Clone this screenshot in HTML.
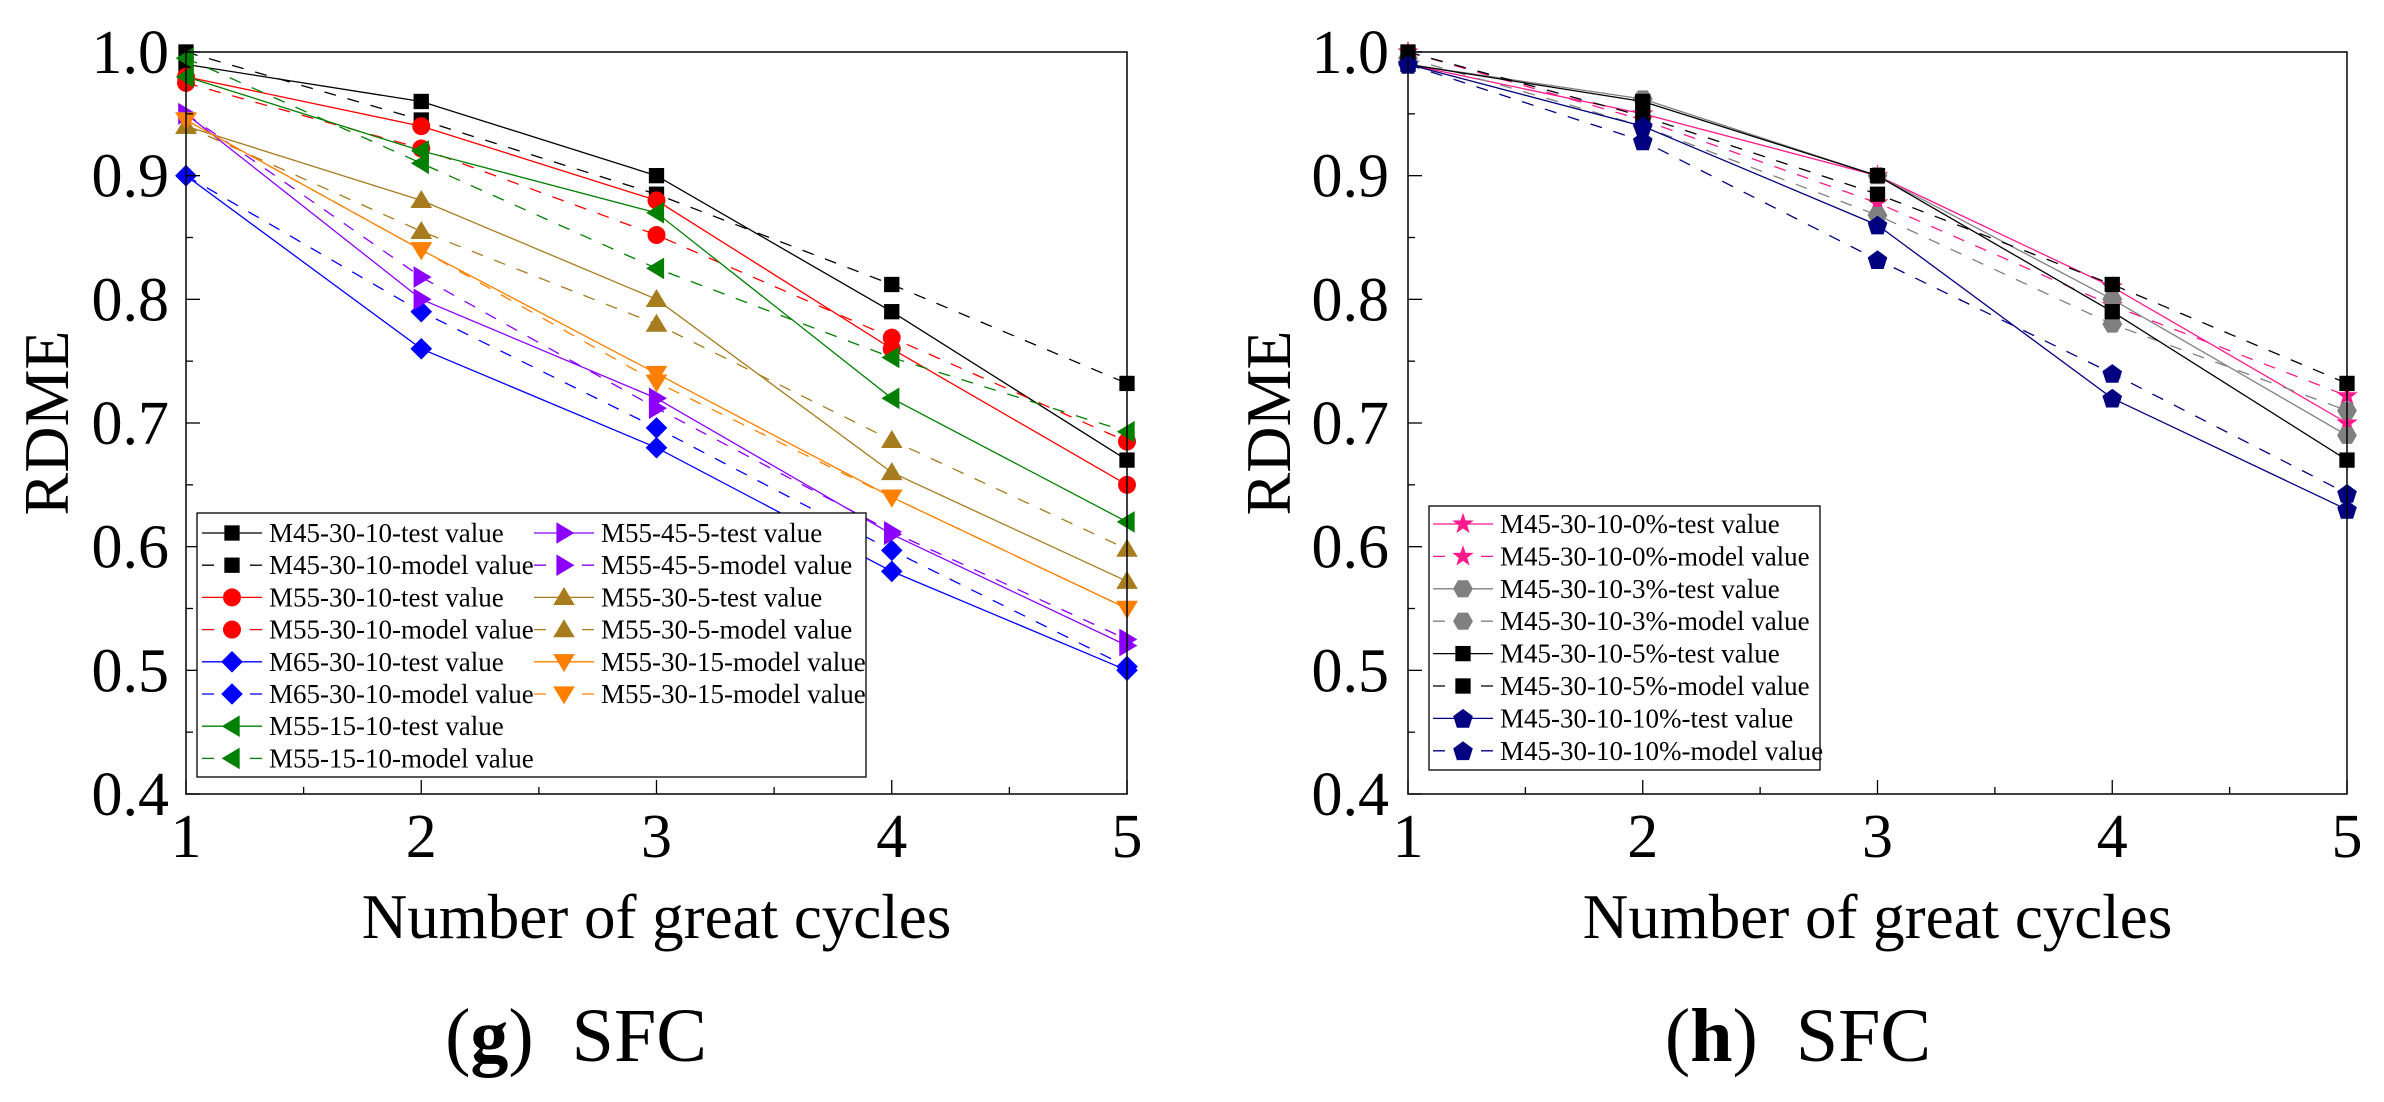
<!DOCTYPE html>
<html><head><meta charset="utf-8">
<style>
html,body{margin:0;padding:0;background:#fff;}
svg{display:block;}
svg text{font-family:"Liberation Serif","Times New Roman",serif;}
</style></head>
<body>
<svg id="chart" width="2384" height="1102" viewBox="0 0 2384 1102" xmlns="http://www.w3.org/2000/svg" font-family="Liberation Serif, serif"></svg>
<script>
// ---- data ----
const cycles = [1, 2, 3, 4, 5];
const yTicks = [0.4, 0.5, 0.6, 0.7, 0.8, 0.9, 1.0];
const yTickLabels = ["0.4", "0.5", "0.6", "0.7", "0.8", "0.9", "1.0"];
const xTickLabels = ["1", "2", "3", "4", "5"];

const g_M45test  = [0.99, 0.96, 0.90, 0.79, 0.67];
const g_M45model = [1.00, 0.945, 0.885, 0.812, 0.732];
const g_M55test  = [0.98, 0.94, 0.88, 0.76, 0.65];
const g_M55model = [0.975, 0.922, 0.852, 0.769, 0.685];
const g_M65test  = [0.90, 0.76, 0.68, 0.58, 0.50];
const g_M65model = [0.90, 0.79, 0.696, 0.597, 0.503];
const g_M5515test  = [0.98, 0.92, 0.87, 0.72, 0.62];
const g_M5515model = [0.995, 0.91, 0.825, 0.753, 0.693];
const g_M5545test  = [0.95, 0.80, 0.72, 0.61, 0.52];
const g_M5545model = [0.95, 0.818, 0.712, 0.612, 0.525];
const g_M555test  = [0.94, 0.88, 0.80, 0.66, 0.572];
const g_M555model = [0.94, 0.855, 0.78, 0.686, 0.598];
const g_M5515b_test  = [0.945, 0.84, 0.74, 0.64, 0.55];
const g_M5515b_model = [0.945, 0.84, 0.733, 0.64, 0.55];

const h_0test  = [0.99, 0.95, 0.90, 0.81, 0.70];
const h_0model = [1.00, 0.945, 0.878, 0.795, 0.722];
const h_3test  = [0.99, 0.962, 0.90, 0.80, 0.69];
const h_3model = [0.995, 0.94, 0.868, 0.78, 0.71];
const h_5test  = [0.99, 0.96, 0.90, 0.79, 0.67];
const h_5model = [1.00, 0.948, 0.885, 0.812, 0.732];
const h_10test  = [0.99, 0.94, 0.86, 0.72, 0.63];
const h_10model = [0.99, 0.928, 0.832, 0.74, 0.643];

const seriesG = [
 {name:"M45-30-10-test value", v:g_M45test, c:"#000000", m:"square", d:false},
 {name:"M45-30-10-model value", v:g_M45model, c:"#000000", m:"square", d:true},
 {name:"M55-30-10-test value", v:g_M55test, c:"#ff0000", m:"circle", d:false},
 {name:"M55-30-10-model value", v:g_M55model, c:"#ff0000", m:"circle", d:true},
 {name:"M65-30-10-test value", v:g_M65test, c:"#0000ff", m:"diamond", d:false},
 {name:"M65-30-10-model value", v:g_M65model, c:"#0000ff", m:"diamond", d:true},
 {name:"M55-15-10-test value", v:g_M5515test, c:"#008000", m:"left", d:false},
 {name:"M55-15-10-model value", v:g_M5515model, c:"#008000", m:"left", d:true},
 {name:"M55-45-5-test value", v:g_M5545test, c:"#8b00ff", m:"right", d:false},
 {name:"M55-45-5-model value", v:g_M5545model, c:"#8b00ff", m:"right", d:true},
 {name:"M55-30-5-test value", v:g_M555test, c:"#a67c1e", m:"up", d:false},
 {name:"M55-30-5-model value", v:g_M555model, c:"#a67c1e", m:"up", d:true},
 {name:"M55-30-15-model value", v:g_M5515b_test, c:"#ff8000", m:"down", d:false},
 {name:"M55-30-15-model value", v:g_M5515b_model, c:"#ff8000", m:"down", d:true}
];
const seriesH = [
 {name:"M45-30-10-0%-test value", v:h_0test, c:"#ff1a8c", m:"star", d:false},
 {name:"M45-30-10-0%-model value", v:h_0model, c:"#ff1a8c", m:"star", d:true},
 {name:"M45-30-10-3%-test value", v:h_3test, c:"#808080", m:"hex", d:false},
 {name:"M45-30-10-3%-model value", v:h_3model, c:"#808080", m:"hex", d:true},
 {name:"M45-30-10-5%-test value", v:h_5test, c:"#000000", m:"square", d:false},
 {name:"M45-30-10-5%-model value", v:h_5model, c:"#000000", m:"square", d:true},
 {name:"M45-30-10-10%-test value", v:h_10test, c:"#000080", m:"pent", d:false},
 {name:"M45-30-10-10%-model value", v:h_10model, c:"#000080", m:"pent", d:true}
];

const NS = "http://www.w3.org/2000/svg";
const FONT = '"Liberation Serif", serif';
const svg = document.getElementById("chart");
function mk(tag, attrs, parent){
  const e = document.createElementNS(NS, tag);
  for (const k in attrs) e.setAttribute(k, attrs[k]);
  if (tag === "text") e.setAttribute("font-family", FONT);
  (parent||svg).appendChild(e);
  return e;
}
function marker(type, x, y, s, color, parent){
  let e, pts;
  const poly = p => p.map(q=>q[0].toFixed(1)+","+q[1].toFixed(1)).join(" ");
  if (type==="square"){ e = mk("rect",{x:x-s*0.85,y:y-s*0.85,width:s*1.7,height:s*1.7,fill:color},parent); }
  else if (type==="circle"){ e = mk("circle",{cx:x,cy:y,r:s,fill:color},parent); }
  else {
    if (type==="diamond") pts=[[x,y-s*1.2],[x+s*1.2,y],[x,y+s*1.2],[x-s*1.2,y]];
    else if (type==="up") pts=[[x,y-s*1.15],[x+s*1.2,y+s*0.85],[x-s*1.2,y+s*0.85]];
    else if (type==="down") pts=[[x,y+s*1.15],[x+s*1.2,y-s*0.85],[x-s*1.2,y-s*0.85]];
    else if (type==="left") pts=[[x-s*1.15,y],[x+s*0.85,y-s*1.2],[x+s*0.85,y+s*1.2]];
    else if (type==="right") pts=[[x+s*1.15,y],[x-s*0.85,y-s*1.2],[x-s*0.85,y+s*1.2]];
    else if (type==="star"){ pts=[]; for(let i=0;i<10;i++){const r=i%2?s*0.5:s*1.25;const a=-Math.PI/2+i*Math.PI/5;pts.push([x+r*Math.cos(a),y+r*Math.sin(a)]);} }
    else if (type==="hex"){ pts=[]; for(let i=0;i<6;i++){const a=i*Math.PI/3;pts.push([x+s*1.1*Math.cos(a),y+s*1.1*Math.sin(a)]);} }
    else if (type==="pent"){ pts=[]; for(let i=0;i<5;i++){const a=-Math.PI/2+i*2*Math.PI/5;pts.push([x+s*1.15*Math.cos(a),y+s*1.15*Math.sin(a)+s*0.1]);} }
    e = mk("polygon",{points:poly(pts),fill:color},parent);
  }
  return e;
}

function drawPanel(cfg){
  const {L,R,T,B,series,legend,id,caption,capX,tickRight,ylabX} = cfg;
  const xs = v => L + (v-1)/(4)*(R-L);
  const ys = v => B - (v-0.4)/0.6*(B-T);
  const g = mk("g",{});
  
  
  series.forEach((s,si)=>{
    const sg = mk("g",{},g);
    
    
    const path = cycles.map((c,i)=>xs(c).toFixed(1)+","+ys(s.v[i]).toFixed(1)).join(" ");
    const pl = mk("polyline",{points:path,fill:"none",stroke:s.c,"stroke-width":1.3},sg);
    if (s.d) pl.setAttribute("stroke-dasharray","12,12");
    
    
    cycles.forEach((c,i)=>{
      const mm = marker(s.m, xs(c), ys(s.v[i]), 9, s.c, sg);
      
      
    });
  });
  const fr = mk("rect",{x:L,y:T,width:R-L,height:B-T,fill:"none",stroke:"#000","stroke-width":1.5},g);
  
  
  for (let v=0.4; v<=1.0001; v+=0.05){
    const major = Math.abs(Math.round(v*10)-v*10)<0.01;
    const t = mk("line",{x1:L,x2:L+(major?14:7),y1:ys(v),y2:ys(v),stroke:"#000","stroke-width":1.3},g);
    
    
  }
  yTicks.forEach((v,i)=>{
    const t = mk("text",{x:tickRight,y:ys(v)+21,"font-size":62,"text-anchor":"end"},g);
    t.textContent = yTickLabels[i];
    
    
  });
  for (let v=1; v<=5.0001; v+=0.5){
    const major = Math.abs(v-Math.round(v))<0.01;
    const t = mk("line",{x1:xs(v),x2:xs(v),y1:B,y2:B-(major?14:7),stroke:"#000","stroke-width":1.3},g);
    
    
  }
  cycles.forEach((c,i)=>{
    const t = mk("text",{x:xs(c),y:B+63,"font-size":62,"text-anchor":"middle"},g);
    t.textContent = xTickLabels[i];
    
    
  });
  const xt = mk("text",{x:(L+R)/2,y:B+144,"font-size":63,"text-anchor":"middle"},g);
  xt.textContent = "Number of great cycles";
  
  
  const yt = mk("text",{x:0,y:0,"font-size":64,"text-anchor":"middle",transform:`translate(${ylabX},${(T+B)/2}) rotate(-90)`},g);
  yt.textContent = "RDME";
  
  
  const cap = mk("text",{x:capX,y:1061,"font-size":76,"text-anchor":"middle"},g);
  
  
  const t1 = mk("tspan",{},cap); t1.textContent="(";
  const t2 = mk("tspan",{"font-weight":"bold"},cap); t2.textContent=caption;
  const t3 = mk("tspan",{},cap); t3.textContent=")\u00a0\u00a0SFC";
  const lg = mk("g",{},g);
  
  
  const lb = mk("rect",{x:legend.x,y:legend.y,width:legend.w,height:legend.h,fill:"#fff",stroke:"#000","stroke-width":1.3},lg);
  
  
  series.forEach((s,i)=>{
    const col = Math.floor(i/legend.rows), row = i%legend.rows;
    const cx0 = legend.cols[col];
    const cy = legend.row0 + row*legend.dy;
    const eg = mk("g",{},lg);
    
    
    const ln = mk("line",{x1:cx0,x2:cx0+60,y1:cy,y2:cy,stroke:s.c,"stroke-width":1.3},eg);
    if (s.d) ln.setAttribute("stroke-dasharray","12,12");
    marker(s.m, cx0+30, cy, 9, s.c, eg);
    const tx = mk("text",{x:cx0+67,y:cy+9,"font-size":27},eg);
    tx.textContent = s.name;
  });
}

drawPanel({id:"panel-g",L:186,R:1127,T:52,B:794,series:seriesG,caption:"g",capX:576,tickRight:169,ylabX:68,
  legend:{x:197,y:513,w:669,h:264,rows:8,row0:533,dy:32.2,cols:[202,534]}});
drawPanel({id:"panel-h",L:1408,R:2347,T:52,B:794,series:seriesH,caption:"h",capX:1798,tickRight:1389,ylabX:1290,
  legend:{x:1429,y:506,w:391,h:264,rows:8,row0:524,dy:32.4,cols:[1433]}});
</script>
</body></html>
